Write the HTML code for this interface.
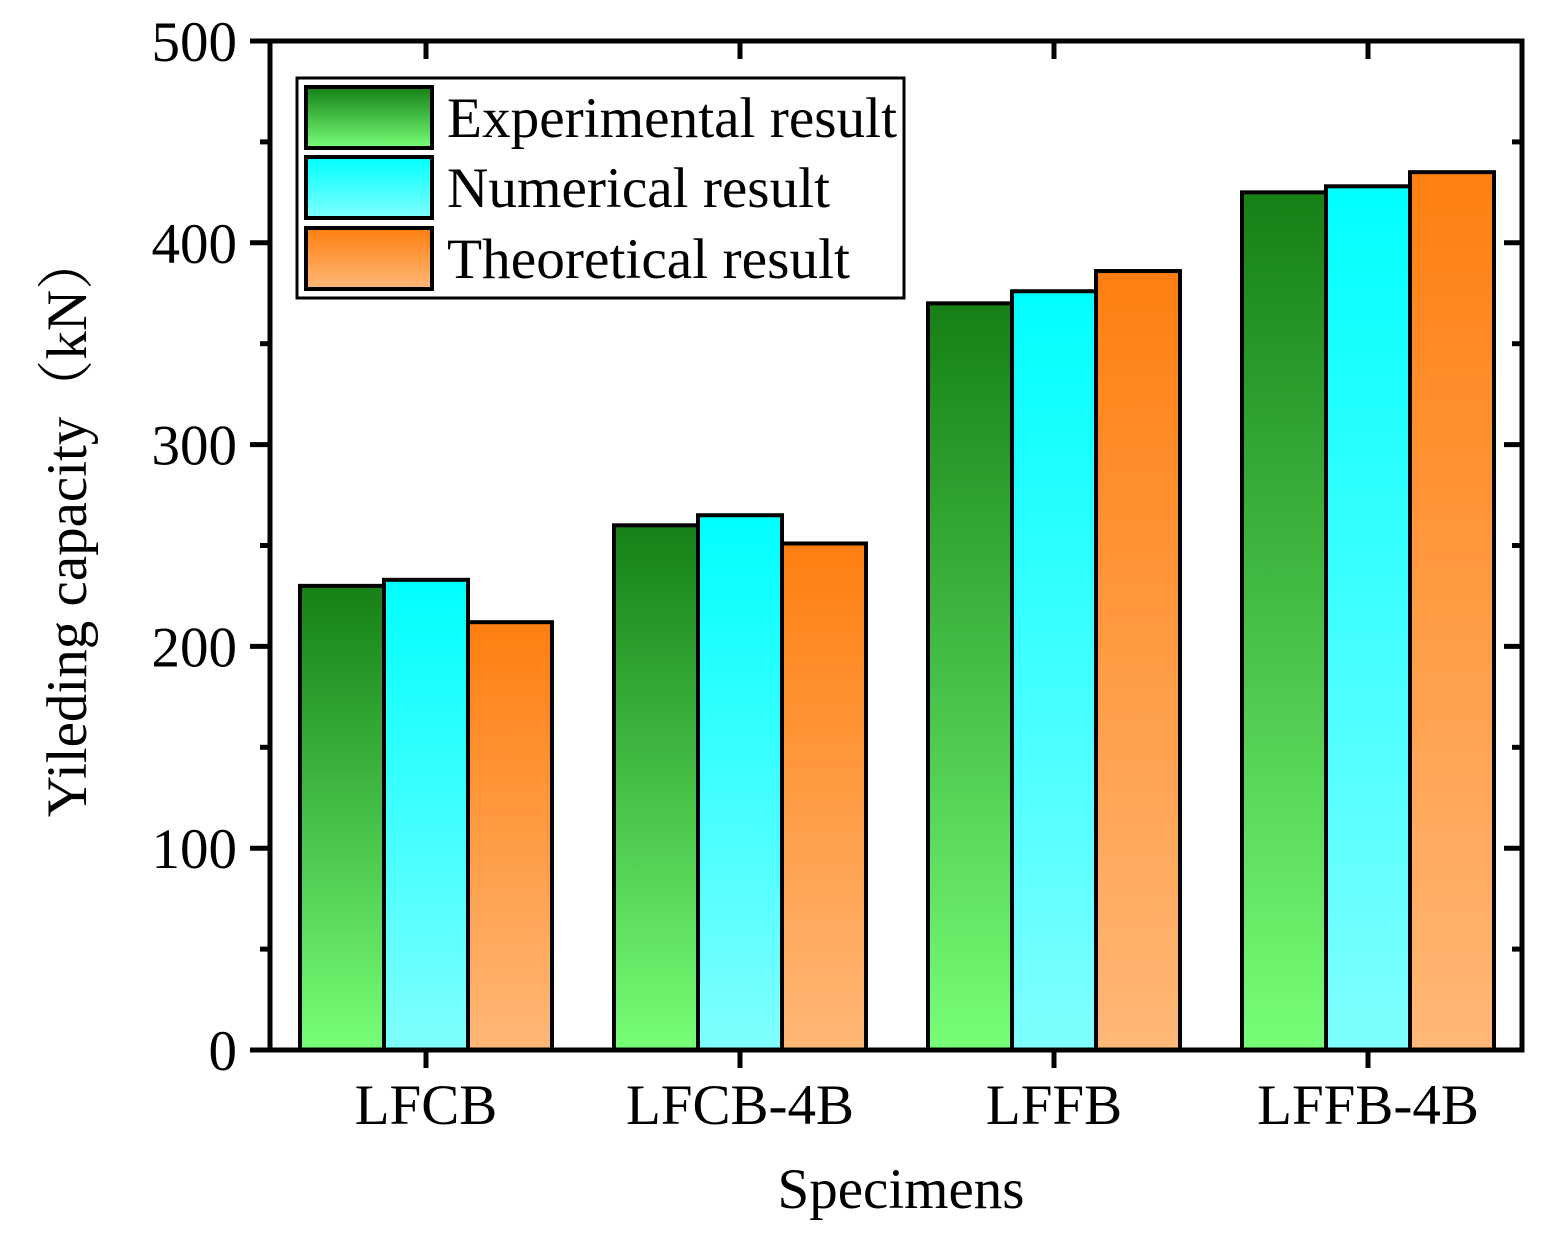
<!DOCTYPE html>
<html><head><meta charset="utf-8"><style>
html,body{margin:0;padding:0;background:#fff;}
svg{display:block;font-family:"Liberation Serif","Noto Serif CJK SC",serif;}
</style></head><body>
<svg id="chart" width="1566" height="1250" viewBox="0 0 1566 1250">
<defs>
<linearGradient id="gExp" x1="0" y1="0" x2="0" y2="1"><stop offset="0" stop-color="#168016"/><stop offset="1" stop-color="#77ff77"/></linearGradient>
<linearGradient id="gNum" x1="0" y1="0" x2="0" y2="1"><stop offset="0" stop-color="#00ffff"/><stop offset="1" stop-color="#80ffff"/></linearGradient>
<linearGradient id="gTheo" x1="0" y1="0" x2="0" y2="1"><stop offset="0" stop-color="#ff7f10"/><stop offset="1" stop-color="#ffb878"/></linearGradient>
</defs>
<g id="bars"></g>
<g id="axes"></g>
<g>
<rect x="297" y="78" width="607" height="220" fill="#fff" stroke="#000" stroke-width="3"/>
<rect x="306" y="87" width="126" height="61" fill="url(#gExp)" stroke="#000" stroke-width="4"/>
<text x="447" y="137" font-size="57" textLength="450" lengthAdjust="spacingAndGlyphs">Experimental result</text>
<rect x="306" y="157" width="126" height="61" fill="url(#gNum)" stroke="#000" stroke-width="4"/>
<text x="447" y="207" font-size="57" textLength="383" lengthAdjust="spacingAndGlyphs">Numerical result</text>
<rect x="306" y="228" width="126" height="61" fill="url(#gTheo)" stroke="#000" stroke-width="4"/>
<text x="447" y="278" font-size="57" textLength="403" lengthAdjust="spacingAndGlyphs">Theoretical result</text>
</g>
<text x="901" y="1208" font-size="57" text-anchor="middle">Specimens</text>
<text transform="translate(86,525) rotate(-90)" font-size="57" text-anchor="middle">Yileding capacity（kN）</text>
</svg>
<script>
const categories = ["LFCB","LFCB-4B","LFFB","LFFB-4B"];
const experimental = [230,260,370,425];
const numerical = [233,265,376,428];
const theoretical = [212,251,386,435];
const yTicks = [0,100,200,300,400,500];
const yMinor = [50,150,250,350,450];

const NS = "http://www.w3.org/2000/svg";
const X0 = 270, X1 = 1522, Y0 = 1050, Y1 = 41;
const yScale = v => Y0 - (v/500)*(Y0-Y1);
const groupCenter = i => 426 + i*314;
const barW = 84;
function mk(tag, attrs, parent){const e=document.createElementNS(NS,tag);for(const k in attrs)e.setAttribute(k,attrs[k]);parent.appendChild(e);return e;}
const bars = document.getElementById('bars');
const series = [[experimental,'url(#gExp)','experimental'],[numerical,'url(#gNum)','numerical'],[theoretical,'url(#gTheo)','theoretical']];
categories.forEach((c,i)=>{
  series.forEach((s,j)=>{
    const v=s[0][i];
    const x=groupCenter(i)-1.5*barW+j*barW;
    const r=mk('rect',{x:x,y:yScale(v),width:barW,height:Y0-yScale(v),fill:s[1],stroke:'#000','stroke-width':4},bars);
    
    
  });
});
const ax = document.getElementById('axes');
const frame = mk('rect',{x:X0,y:Y1,width:X1-X0,height:Y0-Y1,fill:'none',stroke:'#000','stroke-width':5},ax);


yTicks.forEach(t=>{
  const y=yScale(t);
  mk('line',{x1:X0-20,x2:X0,y1:y,y2:y,stroke:'#000','stroke-width':5},ax);
  mk('line',{x1:X1-18,x2:X1,y1:y,y2:y,stroke:'#000','stroke-width':5},ax);
  const l=mk('text',{x:X0-33,y:y+20,'font-size':57,'text-anchor':'end'},ax);
  l.textContent=t;
  
  
});
yMinor.forEach(t=>{
  const y=yScale(t);
  mk('line',{x1:X0-10,x2:X0,y1:y,y2:y,stroke:'#000','stroke-width':5},ax);
  mk('line',{x1:X1-10,x2:X1,y1:y,y2:y,stroke:'#000','stroke-width':5},ax);
});
categories.forEach((c,i)=>{
  const x=groupCenter(i);
  mk('line',{x1:x,x2:x,y1:Y0,y2:Y0+18,stroke:'#000','stroke-width':5},ax);
  mk('line',{x1:x,x2:x,y1:Y1,y2:Y1+18,stroke:'#000','stroke-width':5},ax);
  const l=mk('text',{x:x,y:1124,'font-size':57,'text-anchor':'middle'},ax);
  l.textContent=c;
  
  
});
</script>
</body></html>
